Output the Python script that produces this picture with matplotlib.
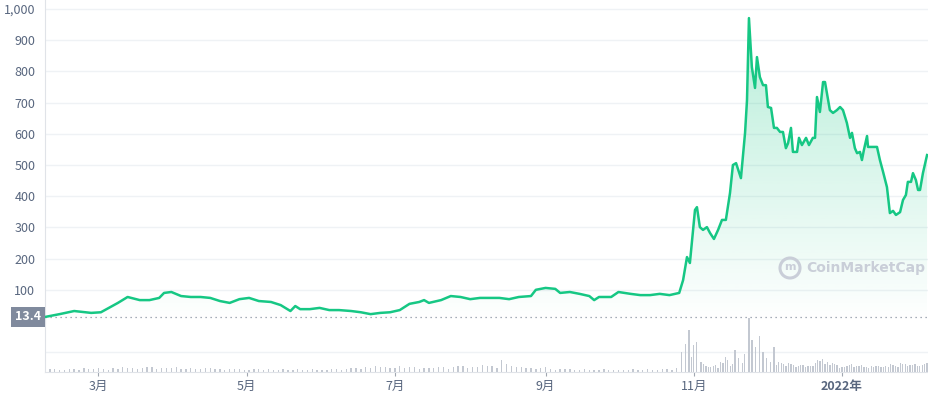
import matplotlib
matplotlib.use("Agg")
import matplotlib.pyplot as plt
import matplotlib.dates as mdates
import numpy as np
import pandas as pd
from matplotlib.patches import Polygon, Circle

plt.rcParams['font.family'] = ['Noto Sans CJK SC', 'DejaVu Sans']

start = pd.Timestamp('2021-02-07')
price_days = [0,6,12,19,23,27,30,34,39,43,47,49,52,56,60,64,68,72,76,80,84,88,93,97,101,103,105,109,113,117,121,126,130,134,138,142,146,150,154,156,158,163,167,171,175,179,183,187,191,195,200,202,206,210,212,216,220,224,226,228,233,236,241,245,249,253,257,261,
              262.6,264.2,265.4,267.5,268.3,269.5,270.8,272.4,273.7,275.3,277.0,278.6,280.2,281.9,283.1,284.4,286.4,288.1,288.9,289.7,290.9,292.2,293.0,294.2,295.5,296.7,297.5,298.8,300.0,301.2,302.5,303.7,304.9,305.8,307.0,307.8,309.5,310.3,311.5,313.2,314.4,316.0,316.9,317.7,318.9,320.2,321.0,321.8,323.0,324.3,325.9,327.2,328.4,330.0,331.3,332.1,333.3,334.2,335.4,336.2,337.0,338.3,338.7,340.3,342.4,343.6,344.9,346.5,347.7,349.0,350.2,351.9,353.1,354.3,355.1,356.4,357.2,358.4,359.3,360.1,361.3,363.0]
price = [13,22,32,26,28,45,58,77,67,67,74,90,93,80,77,77,74,64,58,70,74,64,61,51,32,48,38,38,42,35,35,32,28,22,26,28,35,55,61,67,58,67,80,77,70,74,74,74,70,77,80,100,106,103,90,93,87,80,67,77,77,93,87,83,83,87,83,90,
         131,205,186,356,365,301,292,301,282,263,292,324,324,410,500,506,458,603,708,971,814,747,846,782,756,756,686,683,619,619,606,606,554,570,619,542,542,587,564,587,564,587,587,718,670,766,766,730,676,667,676,686,676,635,587,603,554,538,542,516,548,593,558,558,558,516,478,429,346,353,340,349,388,404,446,446,474,452,420,420,474,532]

vol_low = [2,3,2,3,4,3,3,4,5,4,4,5,4,4,3,4,3,4,3,3,3,2,3,3,2,2,3,2,2,2,3,3,4,5,6,5,4,4,5,4,4,5,5,6,5,7,6,12,6,5,4,4,3,3,3,2,2,2,2,2,2,2,3,2,3,4]
vol_low2 = [3,2,3,2,3,4,2,3,4,3,5,3,4,5,3,3,4,3,2,3,2,3,2,2,3,2,2,3,2,3,2,4,3,4,5,4,6,5,3,4,5,3,6,4,5,6,4,8,5,4,3,5,2,3,2,3,2,3,2,2,3,2,2,3,2,3]
vol_low_days = list(range(0, 4*len(vol_low), 4))
vol_low2_days = list(range(2, 4*len(vol_low2), 4))
vol_hi_days = [262,263.5,265,266,267,268,270,272,274,276,278,280,282,284,285.5,287,288,289.7,291,292.5,294,295.5,297,298.5,300,302,304,306,308,310,312,314,316,318,320,322,324,326,328,330,332,334,336,338,340,342,344,346,348,350,352,354,356,358,360,362]
vol_hi = [20,28,42,15,27,30,10,6,5,7,10,15,6,22,14,9,18,54,32,25,36,20,14,10,25,10,8,9,7,6,7,6,6,12,13,10,9,7,5,6,8,6,7,5,6,6,5,6,8,6,9,8,7,8,6,8]
vol_mid_days = [271,273,275,277,279,281,283,301,303,305,307,309,311,313,315,317,319,321,323,325,327,329,331,333,335,337,339,341,343,345,347,349,351,353,355,357,359,361,363]
vol_mid = [8,5,6,4,9,12,8,7,9,6,8,5,7,5,6,9,11,8,7,8,4,5,7,5,6,5,4,5,6,5,5,7,5,8,6,7,6,7,9]

yticks = [100,200,300,400,500,600,700,800,900,1000]
ytick_labels = ['100','200','300','400','500','600','700','800','900','1,000']
xtick_dates = ['2021-03-01','2021-05-01','2021-07-01','2021-09-01','2021-11-01','2022-01-01']
xtick_labels = ['3月','5月','7月','9月','11月','2022年']
current = 13.4

green = '#16c784'
gray = '#58667e'
grid = '#eff2f5'

px = pd.to_datetime(start) + pd.to_timedelta(price_days, unit='D')
x = mdates.date2num(px)
vdays = vol_low_days + vol_low2_days + vol_hi_days + vol_mid_days
vx = mdates.date2num(start + pd.to_timedelta(vdays, unit='D'))
vv = vol_low + vol_low2 + vol_hi + vol_mid
xmin = mdates.date2num(start)
xmax = mdates.date2num(start + pd.Timedelta(days=363.8))

fig = plt.figure(figsize=(9.29, 4.0), dpi=100)
axv = fig.add_axes([45/929, 28/400, 884/929, 54/400])
ax = fig.add_axes([45/929, 77/400, 884/929, 323/400])
ax.patch.set_alpha(0)
axv.patch.set_alpha(0)

# volume
axv.bar(vx, vv, width=0.55, color='#c3c8d1')
axv.set_xlim(xmin, xmax)
axv.set_ylim(0, 54)
axv.axhline(20, color=grid, lw=1, zorder=0)
for s in ['top', 'right']:
    axv.spines[s].set_visible(False)
axv.spines['bottom'].set_color('#e0e3e8')
axv.spines['left'].set_color('#e0e3e8')
axv.set_yticks([])
axv.set_xticks(mdates.date2num(pd.to_datetime(xtick_dates)))
axv.set_xticklabels(xtick_labels, color=gray, fontsize=9)
for lab in axv.get_xticklabels():
    if lab.get_text() == '2022年':
        lab.set_fontweight('bold')
axv.tick_params(axis='x', length=3, color='#a0a6b0', pad=3)

# price
ax.set_xlim(xmin, xmax)
ax.set_ylim(-6.4, 1029)
for yt in yticks:
    ax.axhline(yt, color=grid, lw=1, zorder=0)
ax.axhline(current, color='#8a93a3', lw=0.9, ls=(0, (1, 3)), zorder=1)

# gradient fill
grad = np.linspace(0.0, 0.32, 256)
rgba = np.zeros((256, 1, 4))
rgba[..., 0] = 0x16/255; rgba[..., 1] = 0xc7/255; rgba[..., 2] = 0x84/255
rgba[:, 0, 3] = grad
im = ax.imshow(rgba, extent=[xmin, xmax, -6.4, 1000], origin='lower', aspect='auto', zorder=1)
poly = Polygon(np.column_stack([np.r_[x[0], x, x[-1]], np.r_[-6.4, price, -6.4]]), closed=True,
               transform=ax.transData, facecolor='none', edgecolor='none')
ax.add_patch(poly)
im.set_clip_path(poly)
ax.plot(x, price, color=green, lw=1.8, zorder=3)

for s in ['top', 'right', 'bottom']:
    ax.spines[s].set_visible(False)
ax.spines['left'].set_color('#e0e3e8')
ax.set_xticks([])
ax.set_yticks(yticks)
ax.set_yticklabels(ytick_labels, color=gray, fontsize=9)
ax.tick_params(axis='y', length=0, pad=7)

ax.text(-0.0045, current, f'{current}', transform=ax.get_yaxis_transform(), ha='right', va='center',
        color='white', fontsize=9, fontweight='bold',
        bbox=dict(boxstyle='square,pad=0.3', fc='#808a9d', ec='none'))

# watermark
wm = '#c9ced8'
fig.text(806/929, 1 - 268/400, 'CoinMarketCap', ha='left', va='center', fontsize=10,
         color=wm, fontweight='bold', family=['DejaVu Sans'])
fig.text(790/929, 1 - 267/400, 'm', ha='center', va='center', fontsize=8,
         color=wm, fontweight='bold', family=['DejaVu Sans'])
fig.patches.append(Circle((790, 400 - 268), 10, transform=None,
                          fill=False, ec=wm, lw=2.2))

fig.savefig('out.png', dpi=100)
